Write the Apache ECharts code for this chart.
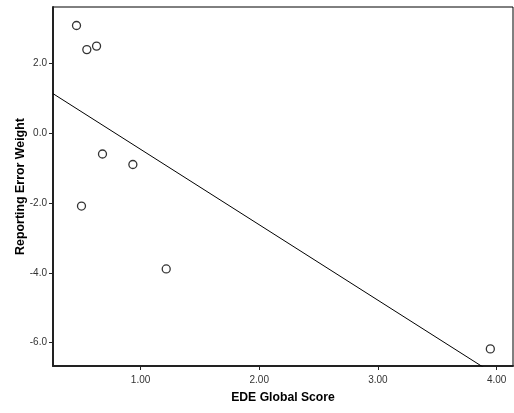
<!DOCTYPE html>
<html>
<head>
<meta charset="utf-8">
<script src="https://cdn.jsdelivr.net/npm/echarts@6/dist/echarts.min.js"></script>
<style>
  html, body { margin: 0; padding: 0; background: #fff; }
  #chart { width: 514px; height: 413px; }
</style>
</head>
<body>
<div id="chart"></div>
<script>
// EDE global score vs. reporting error weight, with a least-squares fit line
const edeScore = [0.46, 0.547, 0.629, 0.679, 0.935, 0.502, 1.216, 3.947];
const errorWeight = [3.08, 2.39, 2.49, -0.60, -0.90, -2.09, -3.89, -6.18];
const xTicks = [1, 2, 3, 4];
const yTicks = [-6, -4, -2, 0, 2];

const xMin = 0.262, xMax = 4.138;
const yMin = -6.67, yMax = 3.61;

// ordinary least squares fit
const n = edeScore.length;
const mx = edeScore.reduce((a, b) => a + b, 0) / n;
const my = errorWeight.reduce((a, b) => a + b, 0) / n;
let sxy = 0, sxx = 0;
for (let i = 0; i < n; i++) {
  sxy += (edeScore[i] - mx) * (errorWeight[i] - my);
  sxx += (edeScore[i] - mx) ** 2;
}
const slope = sxy / sxx;
const intercept = my - slope * mx;
const fitLine = [xMin, xMax].map(x => [x, intercept + slope * x]);

const points = edeScore.map((x, i) => [x, errorWeight[i]]);
const font = 'Liberation Sans, Arial, sans-serif';

const chart = echarts.init(document.getElementById('chart'), null, { renderer: 'canvas' });
chart.setOption({
  animation: false,
  backgroundColor: '#ffffff',
  grid: { left: 53, right: 1, top: 7, bottom: 47, containLabel: false, outerBoundsMode: 'none',
          show: true, borderColor: '#000', borderWidth: 1, backgroundColor: 'transparent' },
  xAxis: {
    type: 'value', min: xMin, max: xMax,
    name: 'EDE Global Score', nameLocation: 'middle', nameGap: 26, nameMoveOverlap: false,
    nameTextStyle: { fontFamily: font, fontWeight: 'bold', fontSize: 12.2, color: '#000' },
    axisLine: { show: true, onZero: false, lineStyle: { color: '#222', width: 2 } },
    axisTick: { show: true, length: 4, lineStyle: { color: '#222', width: 1 },
                customValues: xTicks },
    axisLabel: { fontFamily: font, fontSize: 10, color: '#333', margin: 9,
                 customValues: xTicks, formatter: v => v.toFixed(2) },
    splitLine: { show: false }
  },
  yAxis: {
    type: 'value', min: yMin, max: yMax,
    name: 'Reporting Error Weight', nameLocation: 'middle', nameGap: 26, nameRotate: 90,
    nameMoveOverlap: false,
    nameTextStyle: { fontFamily: font, fontWeight: 'bold', fontSize: 12.4, color: '#000' },
    axisLine: { show: true, onZero: false, lineStyle: { color: '#222', width: 2 } },
    axisTick: { show: true, length: 4, lineStyle: { color: '#222', width: 1 },
                customValues: yTicks },
    axisLabel: { fontFamily: font, fontSize: 10, color: '#333', margin: 6,
                 customValues: yTicks, formatter: v => v.toFixed(1) },
    splitLine: { show: false }
  },
  series: [
    {
      type: 'line', data: fitLine, showSymbol: false, clip: true,
      lineStyle: { color: '#000', width: 1 }, z: 2
    },
    {
      type: 'scatter', data: points, symbol: 'circle', symbolSize: 8,
      itemStyle: { color: '#fff', borderColor: '#000', borderWidth: 1.3 }, z: 3
    }
  ]
});
</script>
</body>
</html>
